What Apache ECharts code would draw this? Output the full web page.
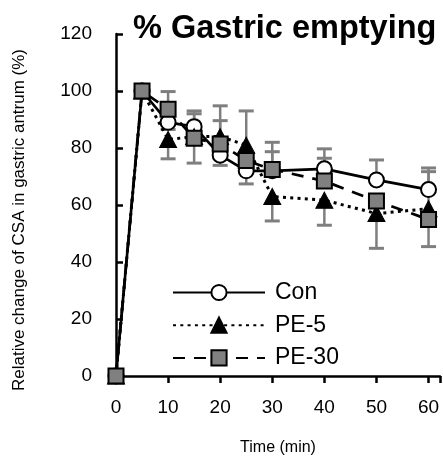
<!DOCTYPE html>
<html>
<head>
<meta charset="utf-8">
<script src="https://cdn.jsdelivr.net/npm/echarts@6/dist/echarts.min.js"></script>
<style>
html, body { margin: 0; padding: 0; background: #fff; }
#chart { width: 443px; height: 461px; }
</style>
</head>
<body>
<div id="chart"></div>
<script>
// time points (min)
var times = [0, 5, 10, 15, 20, 25, 30, 40, 50, 60];

// mean values
var con  = [0, 100, 89, 87.5, 77.5, 72, 72, 72.7, 68.8, 65.4];
var pe5  = [0, 100, 83, 84, 84, 81, 63, 61.7, 57, 58.7];
var pe30 = [0, 100, 93.6, 83.4, 81.4, 75.6, 72.5, 68.4, 61.4, 54.9];

// error bars as drawn (upward / downward length)
var conUp    = [0, 0, 0, 5.5, 0, 0, 10, 7, 7, 7.6];
var conDown  = [0, 0, 2.5, 0, 3.6, 4.6, 0, 0, 0, 0];
var pe5Up    = [0, 0, 0, 8, 10.8, 12, 0, 0, 0, 13];
var pe5Down  = [0, 0, 6.8, 0, 0, 0, 8.6, 8.8, 12.2, 0];
var pe30Up   = [0, 0, 6.2, 0, 8.2, 0, 6.2, 8, 0, 0];
var pe30Down = [0, 0, 0, 8.7, 0, 0, 0, 0, 0, 9.5];

var yTicks = [0, 20, 40, 60, 80, 100, 120];

var FONT = 'Liberation Sans, Arial, Helvetica, sans-serif';

function pairs(vals){
    var out = [];
    for(var i=0; i<times.length; i++){
        out.push([times[i], vals[i]]);
    }
    return out;
}

function errSeries(vals, up, down, z){
    var data = [];
    for(var i=0; i<times.length; i++){
        if(up[i] || down[i]) data.push([times[i], vals[i], up[i], down[i]]);
    }
    return {
        type: 'custom',
        silent: true,
        z: z,
        data: data,
        renderItem: function(params, api){
            var x = api.value(0), y = api.value(1), u = api.value(2), d = api.value(3);
            var top = api.coord([x, y + u]);
            var bot = api.coord([x, y - d]);
            var st = { stroke: '#7f7f7f', lineWidth: 2.5 };
            var cap = { stroke: '#7f7f7f', lineWidth: 3 };
            var kids = [{ type: 'line', shape: { x1: top[0], y1: top[1], x2: bot[0], y2: bot[1] }, style: st }];
            var w = 7.5;
            if(u) kids.push({ type: 'line', shape: { x1: top[0]-w, y1: top[1], x2: top[0]+w, y2: top[1] }, style: cap });
            if(d) kids.push({ type: 'line', shape: { x1: bot[0]-w, y1: bot[1], x2: bot[0]+w, y2: bot[1] }, style: cap });
            return { type: 'group', children: kids };
        }
    };
}

var chart = echarts.init(document.getElementById('chart'));
var option = {
    animation: false,
    title: {
        text: '% Gastric emptying',
        left: 128,
        top: 8,
        textStyle: { fontFamily: FONT, fontWeight: 'bold', fontSize: 32.5, color: '#000' }
    },
    legend: {
        orient: 'vertical',
        left: 172,
        top: 281,
        padding: 0,
        itemWidth: 92,
        itemHeight: 19,
        itemGap: 9.7,
        data: ['Con', 'PE-5', 'PE-30'],
        textStyle: { fontFamily: FONT, fontSize: 23, color: '#000', padding: [0, 0, 0, 5] }
    },
    grid: { left: 116, top: 34, right: 0, bottom: 81 },
    xAxis: {
        type: 'value',
        min: 0,
        max: 62.2,
        interval: 10,
        name: 'Time (min)',
        nameLocation: 'middle',
        nameGap: 64,
        nameTextStyle: { fontFamily: FONT, fontSize: 16, color: '#000' },
        splitLine: { show: false },
        axisLine: { lineStyle: { color: '#000', width: 2.5 } },
        axisTick: { length: 7, lineStyle: { color: '#000', width: 2.5 } },
        axisLabel: {
            margin: 22,
            fontFamily: FONT, fontSize: 19, color: '#000',
            formatter: function(v){ return v % 10 === 0 ? v : ''; }
        }
    },
    yAxis: {
        type: 'value',
        min: yTicks[0],
        max: yTicks[yTicks.length - 1],
        interval: 20,
        name: 'Relative change of CSA in gastric antrum (%)',
        nameLocation: 'middle',
        nameGap: 88,
        nameTextStyle: { fontFamily: FONT, fontSize: 17, color: '#000', padding: [0, 30, 0, 0] },
        splitLine: { show: false },
        axisLine: { lineStyle: { color: '#000', width: 2.5 } },
        axisTick: { inside: true, length: 7, lineStyle: { color: '#000', width: 2.5 } },
        axisLabel: { margin: 24, fontFamily: FONT, fontSize: 19, color: '#000' }
    },
    series: [
        errSeries(con, conUp, conDown, 1),
        errSeries(pe5, pe5Up, pe5Down, 1),
        errSeries(pe30, pe30Up, pe30Down, 1),
        {
            name: 'Con',
            type: 'line',
            z: 2,
            data: pairs(con),
            symbol: 'circle',
            symbolSize: 15,
            lineStyle: { color: '#000', width: 2.7, type: 'solid' },
            itemStyle: { color: '#fff', borderColor: '#000', borderWidth: 2 }
        },
        {
            name: 'PE-5',
            type: 'line',
            z: 3,
            data: pairs(pe5),
            symbol: 'triangle',
            symbolSize: [17, 16],
            lineStyle: { color: '#000', width: 3, type: [3, 4.3] },
            itemStyle: { color: '#000', borderColor: '#000', borderWidth: 1 }
        },
        {
            name: 'PE-30',
            type: 'line',
            z: 4,
            data: pairs(pe30),
            symbol: 'rect',
            symbolSize: 15,
            lineStyle: { color: '#000', width: 2.7, type: [12, 9] },
            itemStyle: { color: '#808080', borderColor: '#000', borderWidth: 2 }
        }
    ]
};
chart.setOption(option);
</script>
</body>
</html>
